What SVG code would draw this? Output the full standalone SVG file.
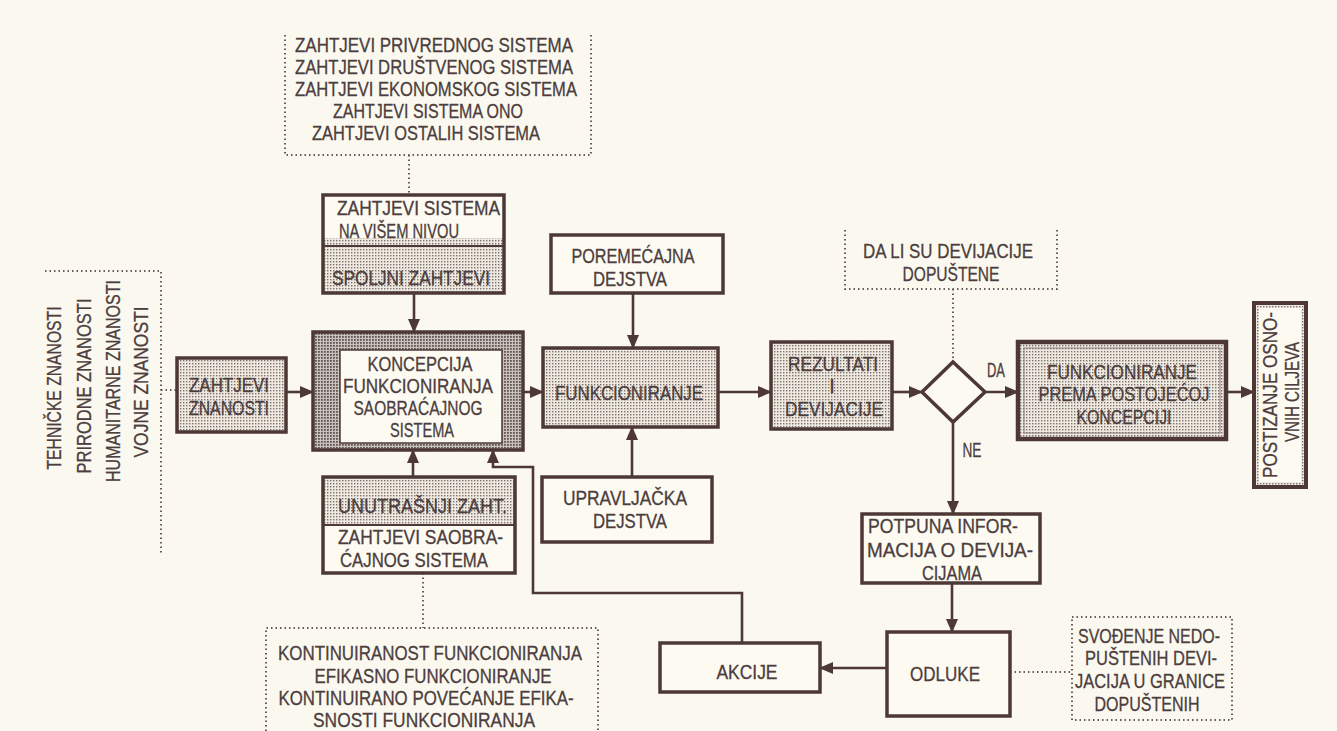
<svg xmlns="http://www.w3.org/2000/svg" width="1337" height="731" viewBox="0 0 1337 731">
<style>
.t{font-family:"Liberation Sans","DejaVu Sans",sans-serif;font-size:20px;fill:#4c3d3e;stroke:#4c3d3e;stroke-width:0.3;}
.m{text-anchor:middle;}
.b{fill:#fcfaf1;stroke:#4d3836;stroke-width:3.5;}
.s{fill:url(#st);stroke:#4d3836;stroke-width:3.5;}
.ln{fill:none;stroke:#4d3836;stroke-width:2.6;}
.dt{fill:none;stroke:#6b5a5a;stroke-width:2;stroke-dasharray:1.5 3;}
</style>
<defs>
<pattern id="st" width="3" height="3" patternUnits="userSpaceOnUse"><rect width="3" height="3" fill="#eeeae0"/><rect width="1.4" height="1.4" fill="#7d6f6d"/></pattern>
<pattern id="dk" width="3" height="3" patternUnits="userSpaceOnUse"><rect width="3" height="3" fill="#c9c1bb"/><rect width="1.8" height="1.8" fill="#625654"/></pattern>
<marker id="ar" markerUnits="userSpaceOnUse" markerWidth="14" markerHeight="12" refX="13" refY="6" orient="auto"><path d="M0,0 L14,6 L0,12 Z" fill="#4d3836"/></marker>
</defs>
<rect width="1337" height="731" fill="#fbf9ef"/>

<g id="connectors">
<path class="dt" d="M409,155 V195"/>
<path class="dt" d="M161,390 H177"/>
<path class="dt" d="M423,573 V628"/>
<path class="dt" d="M953,289 V362"/>
<path class="dt" d="M1010,672 H1072"/>
<path class="ln" d="M286,392 H313" marker-end="url(#ar)"/>
<path class="ln" d="M414,293 V332" marker-end="url(#ar)"/>
<path class="ln" d="M523,392 H543" marker-end="url(#ar)"/>
<path class="ln" d="M633,293 V348" marker-end="url(#ar)"/>
<path class="ln" d="M632,477 V427" marker-end="url(#ar)"/>
<path class="ln" d="M718,392 H771" marker-end="url(#ar)"/>
<path class="ln" d="M892,392 H922" marker-end="url(#ar)"/>
<path class="ln" d="M985,392 H1018" marker-end="url(#ar)"/>
<path class="ln" d="M1226,392 H1254" marker-end="url(#ar)"/>
<path class="ln" d="M953,422 V514" marker-end="url(#ar)"/>
<path class="ln" d="M952,583 V632" marker-end="url(#ar)"/>
<path class="ln" d="M887,668 H820" marker-end="url(#ar)"/>
<path class="ln" d="M742,643 V593 H533 V467 H493 V450" marker-end="url(#ar)"/>
<path class="ln" d="M413,477 V450" marker-end="url(#ar)"/>
<text class="t m" x="996" y="377" textLength="18" lengthAdjust="spacingAndGlyphs">DA</text>
<text class="t m" x="972" y="457" textLength="19" lengthAdjust="spacingAndGlyphs">NE</text>
</g>

<g id="zahtjevi-sistema-okruzenja">
<path class="dt" d="M285,35 V155 H591 V35"/>
<text class="t m" x="434" y="52" textLength="278" lengthAdjust="spacingAndGlyphs">ZAHTJEVI PRIVREDNOG SISTEMA</text>
<text class="t m" x="434" y="74" textLength="278" lengthAdjust="spacingAndGlyphs">ZAHTJEVI DRUŠTVENOG SISTEMA</text>
<text class="t m" x="436" y="96" textLength="282" lengthAdjust="spacingAndGlyphs">ZAHTJEVI EKONOMSKOG SISTEMA</text>
<text class="t m" x="428" y="118" textLength="190" lengthAdjust="spacingAndGlyphs">ZAHTJEVI SISTEMA ONO</text>
<text class="t m" x="426" y="140" textLength="228" lengthAdjust="spacingAndGlyphs">ZAHTJEVI OSTALIH SISTEMA</text>
</g>

<g id="zahtjevi-visi-nivo">
<rect x="323" y="195" width="181" height="98" fill="#fcfaf1"/>
<rect x="323" y="238" width="181" height="55" fill="url(#st)"/>
<rect x="323" y="195" width="181" height="98" fill="none" stroke="#4d3836" stroke-width="3.5"/>
<path d="M323,246 H504" stroke="#4d3836" stroke-width="2"/>
<text class="t" x="337" y="215" textLength="163" lengthAdjust="spacingAndGlyphs">ZAHTJEVI SISTEMA</text>
<text class="t" x="339" y="238" textLength="120" lengthAdjust="spacingAndGlyphs">NA VIŠEM NIVOU</text>
<text class="t" x="332" y="285" textLength="158" lengthAdjust="spacingAndGlyphs">SPOLJNI ZAHTJEVI</text>
</g>

<g id="znanosti">
<path class="dt" d="M45,271 H161 V555"/>
<text class="t m" transform="translate(54,388) rotate(-90)" y="7.3" textLength="163" lengthAdjust="spacingAndGlyphs">TEHNIČKE ZNANOSTI</text>
<text class="t m" transform="translate(84,386) rotate(-90)" y="7.3" textLength="175" lengthAdjust="spacingAndGlyphs">PRIRODNE ZNANOSTI</text>
<text class="t m" transform="translate(113,381) rotate(-90)" y="7.3" textLength="202" lengthAdjust="spacingAndGlyphs">HUMANITARNE ZNANOSTI</text>
<text class="t m" transform="translate(141,382) rotate(-90)" y="7.3" textLength="151" lengthAdjust="spacingAndGlyphs">VOJNE ZNANOSTI</text>
</g>

<g id="zahtjevi-znanosti">
<rect class="s" x="177" y="358" width="109" height="74"/>
<text class="t m" x="229" y="392" textLength="80" lengthAdjust="spacingAndGlyphs">ZAHTJEVI</text>
<text class="t m" x="229" y="415" textLength="80" lengthAdjust="spacingAndGlyphs">ZNANOSTI</text>
</g>

<g id="koncepcija">
<rect x="313" y="332" width="210" height="118" fill="url(#dk)" stroke="#4d3836" stroke-width="3.5"/>
<rect x="340" y="350" width="162" height="93" fill="#fcfaf1" stroke="#4d3836" stroke-width="1.5"/>
<text class="t m" x="420" y="371" textLength="105" lengthAdjust="spacingAndGlyphs">KONCEPCIJA</text>
<text class="t m" x="418" y="393" textLength="150" lengthAdjust="spacingAndGlyphs">FUNKCIONIRANJA</text>
<text class="t m" x="418" y="415" textLength="129" lengthAdjust="spacingAndGlyphs">SAOBRAĆAJNOG</text>
<text class="t m" x="422" y="437" textLength="64" lengthAdjust="spacingAndGlyphs">SISTEMA</text>
</g>

<g id="unutrasnji-zahtjevi">
<rect x="323" y="477" width="192" height="96" fill="#fcfaf1"/>
<rect x="323" y="477" width="192" height="48" fill="url(#st)"/>
<rect x="323" y="477" width="192" height="96" fill="none" stroke="#4d3836" stroke-width="3.5"/>
<path d="M323,525 H515" stroke="#4d3836" stroke-width="2"/>
<text class="t" x="338" y="513" textLength="169" lengthAdjust="spacingAndGlyphs">UNUTRAŠNJI ZAHT.</text>
<text class="t" x="338" y="544" textLength="165" lengthAdjust="spacingAndGlyphs">ZAHTJEVI SAOBRA-</text>
<text class="t" x="340" y="567" textLength="148" lengthAdjust="spacingAndGlyphs">ĆAJNOG SISTEMA</text>
</g>

<g id="kontinuiranost">
<path class="dt" d="M266,731 V628 H598 V731"/>
<text class="t m" x="430" y="660" textLength="304" lengthAdjust="spacingAndGlyphs">KONTINUIRANOST FUNKCIONIRANJA</text>
<text class="t m" x="433" y="683" textLength="237" lengthAdjust="spacingAndGlyphs">EFIKASNO FUNKCIONIRANJE</text>
<text class="t m" x="426" y="705" textLength="295" lengthAdjust="spacingAndGlyphs">KONTINUIRANO POVEĆANJE EFIKA-</text>
<text class="t m" x="424" y="727" textLength="222" lengthAdjust="spacingAndGlyphs">SNOSTI FUNKCIONIRANJA</text>
</g>

<g id="poremecajna-dejstva">
<rect class="b" x="551" y="235" width="172" height="58"/>
<text class="t m" x="633" y="263" textLength="123" lengthAdjust="spacingAndGlyphs">POREMEĆAJNA</text>
<text class="t m" x="630" y="286" textLength="74" lengthAdjust="spacingAndGlyphs">DEJSTVA</text>
</g>

<g id="funkcioniranje">
<rect class="s" x="543" y="348" width="175" height="79"/>
<text class="t m" x="629" y="400" textLength="148" lengthAdjust="spacingAndGlyphs">FUNKCIONIRANJE</text>
</g>

<g id="upravljacka-dejstva">
<rect class="b" x="542" y="477" width="170" height="65"/>
<text class="t m" x="625" y="505" textLength="124" lengthAdjust="spacingAndGlyphs">UPRAVLJAČKA</text>
<text class="t m" x="630" y="528" textLength="74" lengthAdjust="spacingAndGlyphs">DEJSTVA</text>
</g>

<g id="rezultati">
<rect class="s" x="771" y="342" width="121" height="87"/>
<text class="t m" x="833" y="371" textLength="90" lengthAdjust="spacingAndGlyphs">REZULTATI</text>
<text class="t m" x="832" y="393">I</text>
<text class="t m" x="834" y="416" textLength="98" lengthAdjust="spacingAndGlyphs">DEVIJACIJE</text>
</g>

<g id="pitanje">
<path class="dt" d="M845,230 V289 H1057 V230"/>
<text class="t m" x="948" y="258" textLength="170" lengthAdjust="spacingAndGlyphs">DA LI SU DEVIJACIJE</text>
<text class="t m" x="951" y="281" textLength="97" lengthAdjust="spacingAndGlyphs">DOPUŠTENE</text>
</g>

<g id="odluka-romb">
<polygon points="953,362 985,392 953,422 922,392" fill="#fcfaf1" stroke="#4d3836" stroke-width="3.5" stroke-linejoin="miter"/>
</g>

<g id="funkcioniranje-prema-koncepciji">
<rect x="1018" y="342" width="208" height="97" fill="url(#st)" stroke="#4d3836" stroke-width="4.5"/>
<rect x="1024" y="348" width="196" height="85" fill="none" stroke="#8a7c7a" stroke-width="1"/>
<text class="t m" x="1122" y="379" textLength="150" lengthAdjust="spacingAndGlyphs">FUNKCIONIRANJE</text>
<text class="t m" x="1124" y="401" textLength="171" lengthAdjust="spacingAndGlyphs">PREMA POSTOJEĆOJ</text>
<text class="t m" x="1124" y="424" textLength="95" lengthAdjust="spacingAndGlyphs">KONCEPCIJI</text>
</g>

<g id="postizanje-ciljeva">
<rect x="1254" y="303" width="52" height="184" fill="url(#st)" stroke="#4d3836" stroke-width="4"/>
<rect x="1259" y="308" width="42" height="174" fill="#fcfaf1"/>
<text class="t m" transform="translate(1270,395) rotate(-90)" y="7.3" textLength="166" lengthAdjust="spacingAndGlyphs">POSTIZANJE OSNO-</text>
<text class="t m" transform="translate(1292,392) rotate(-90)" y="7.3" textLength="100" lengthAdjust="spacingAndGlyphs">VNIH CILJEVA</text>
</g>

<g id="potpuna-informacija">
<rect class="b" x="862" y="514" width="178" height="69"/>
<text class="t m" x="943" y="533" textLength="150" lengthAdjust="spacingAndGlyphs">POTPUNA INFOR-</text>
<text class="t m" x="950" y="557" textLength="166" lengthAdjust="spacingAndGlyphs">MACIJA O DEVIJA-</text>
<text class="t m" x="952" y="580" textLength="60" lengthAdjust="spacingAndGlyphs">CIJAMA</text>
</g>

<g id="odluke">
<rect class="b" x="887" y="632" width="123" height="84"/>
<text class="t m" x="945" y="681" textLength="70" lengthAdjust="spacingAndGlyphs">ODLUKE</text>
</g>

<g id="akcije">
<rect class="b" x="660" y="643" width="160" height="49"/>
<text class="t m" x="747" y="679" textLength="61" lengthAdjust="spacingAndGlyphs">AKCIJE</text>
</g>

<g id="svodjenje">
<path class="dt" d="M1072,617 H1232 V720 H1072 Z"/>
<text class="t m" x="1149" y="643" textLength="142" lengthAdjust="spacingAndGlyphs">SVOĐENJE NEDO-</text>
<text class="t m" x="1151" y="665" textLength="132" lengthAdjust="spacingAndGlyphs">PUŠTENIH DEVI-</text>
<text class="t m" x="1150" y="688" textLength="150" lengthAdjust="spacingAndGlyphs">JACIJA U GRANICE</text>
<text class="t m" x="1147" y="711" textLength="105" lengthAdjust="spacingAndGlyphs">DOPUŠTENIH</text>
</g>
</svg>
